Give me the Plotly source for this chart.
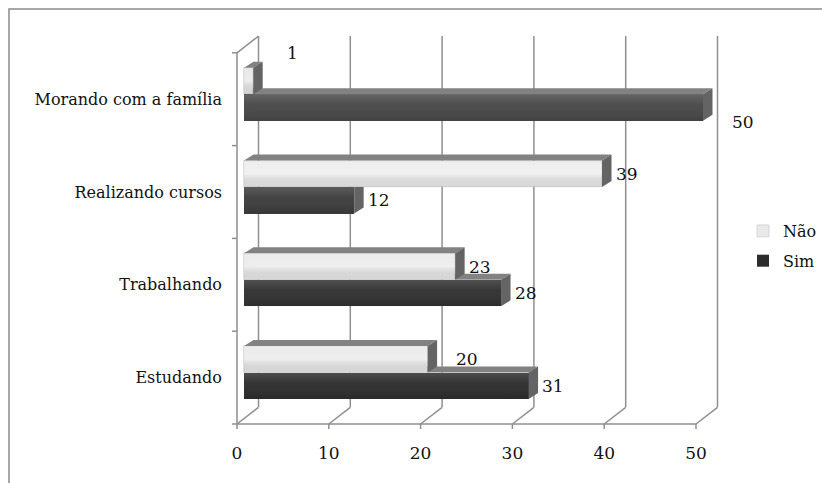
import plotly.graph_objects as go

# ---- data ---------------------------------------------------------------
categories = ["Estudando", "Trabalhando", "Realizando cursos", "Morando com a família"]
nao = [20, 23, 39, 1]
sim = [31, 28, 12, 50]
series_names = ["Não", "Sim"]
x_ticks = [0, 10, 20, 30, 40, 50]

# ---- styling ------------------------------------------------------------
nao_front = ["#e9e9e9", "#e9e9e9", "#ececec", "#e6e6e6"]
sim_front = ["#2c2c2c", "#303030", "#3c3c3c", "#474747"]
top_color = "#828282"
side_color = "#646464"
frame_line = dict(color="#8f8f8f", width=1.5)
FONT = "DejaVu Serif"
FONT_SIZE = 16
NUM_SIZE = 17

# label nudges in pixels (dx, dy) per category, same order as categories
nao_label_nudge = [(15, 0), (0, 0), (0, 0), (20, 28)]
sim_label_nudge = [(0, 0), (0, 0), (0, 0), (15, -15)]

# ---- geometry (pixels -> axis units) -----------------------------------
W, H = 822, 483
X0_PX, PX_PER_UNIT = 237, 9.18      # value 0 on the front plane, px per value unit
Y0_PX, PX_PER_BAND = 424, 92.8      # category floor on the front plane, px per category
PLOT_L, PLOT_R, PLOT_T, PLOT_B = 230, 730, 30, 432


def ux(px):
    return px / PX_PER_UNIT


def uy(px):
    return px / PX_PER_BAND


x_range = [ux(PLOT_L - X0_PX), ux(PLOT_R - X0_PX)]
y_range = [uy(Y0_PX - PLOT_B), uy(Y0_PX - PLOT_T)]

DEPTH_X, DEPTH_Y = ux(21.5), uy(16.7)   # wall depth
BAR_X0 = ux(7)                          # bars sit a little inside the box
BAR_LIFT = uy(5)
BAR_H = uy(26.5)
FACE_DX, FACE_DY = ux(9.5), uy(6)       # bar depth (top / side faces)

n = len(categories)
x_max = x_ticks[-1]

# ---- box frame ----------------------------------------------------------
shapes = []


def seg(x0, y0, x1, y1):
    shapes.append(dict(type="line", xref="x", yref="y", x0=x0, y0=y0, x1=x1, y1=y1,
                       line=frame_line, layer="below"))


for t in x_ticks:
    seg(t + DEPTH_X, DEPTH_Y, t + DEPTH_X, n + DEPTH_Y)   # back wall gridline
    seg(t, 0, t + DEPTH_X, DEPTH_Y)                       # floor edge
    seg(t, 0, t, -uy(5))                                  # tick mark
seg(0, 0, x_max, 0)
seg(0, 0, 0, n)
seg(0, n, DEPTH_X, n + DEPTH_Y)
for i in range(n + 1):
    seg(-ux(5), i, 0, i)


# outer frame around the whole chart
def paper_x(px):
    return (px - PLOT_L) / (PLOT_R - PLOT_L)


def paper_y(py):
    return (PLOT_B - py) / (PLOT_B - PLOT_T)


shapes.append(dict(type="rect", xref="paper", yref="paper",
                   x0=paper_x(9), x1=paper_x(840), y0=paper_y(9), y1=paper_y(500),
                   line=dict(color="#8a8a8a", width=1.5), fillcolor="rgba(0,0,0,0)",
                   layer="below"))

# ---- bars ---------------------------------------------------------------
centers = [i + 0.5 + BAR_LIFT for i in range(n)]
nao_y = [c + BAR_H / 2 for c in centers]
sim_y = [c - BAR_H / 2 for c in centers]

fig = go.Figure()
fig.add_trace(go.Bar(orientation="h", y=nao_y, x=nao, base=BAR_X0, width=BAR_H,
                     name=series_names[0], legendgroup="nao",
                     marker=dict(color=nao_front, line=dict(color="#c4c4c4", width=0.6)),
                     hovertemplate="%{x}<extra>Não</extra>"))
fig.add_trace(go.Bar(orientation="h", y=sim_y, x=sim, base=BAR_X0, width=BAR_H,
                     name=series_names[1], legendgroup="sim",
                     marker=dict(color=sim_front, line=dict(width=0)),
                     hovertemplate="%{x}<extra>Sim</extra>"))


def clip(poly, inside):
    """Sutherland-Hodgman clip of a polygon against one half-plane.
    inside(p) returns a signed value, >= 0 meaning kept."""
    out = []
    for k in range(len(poly)):
        a, b = poly[k - 1], poly[k]
        da, db = inside(a), inside(b)
        if db >= 0:
            if da < 0:
                s = da / (da - db)
                out.append((a[0] + s * (b[0] - a[0]), a[1] + s * (b[1] - a[1])))
            out.append(b)
        elif da >= 0:
            s = da / (da - db)
            out.append((a[0] + s * (b[0] - a[0]), a[1] + s * (b[1] - a[1])))
    return out


top_polys, side_polys = [], []
for i in range(n):
    # upper bar (Não): fully visible faces
    e = BAR_X0 + nao[i]
    yb, yt = nao_y[i] - BAR_H / 2, nao_y[i] + BAR_H / 2
    top_polys.append([(BAR_X0, yt), (e, yt), (e + FACE_DX, yt + FACE_DY), (BAR_X0 + FACE_DX, yt + FACE_DY)])
    side_polys.append([(e, yb), (e, yt), (e + FACE_DX, yt + FACE_DY), (e + FACE_DX, yb + FACE_DY)])

    # lower bar (Sim): faces partly hidden behind the Não bar resting on it
    cover = BAR_X0 + nao[i]
    e = BAR_X0 + sim[i]
    yb, yt = sim_y[i] - BAR_H / 2, sim_y[i] + BAR_H / 2
    top = [(BAR_X0, yt), (e, yt), (e + FACE_DX, yt + FACE_DY), (BAR_X0 + FACE_DX, yt + FACE_DY)]
    side = [(e, yb), (e, yt), (e + FACE_DX, yt + FACE_DY), (e + FACE_DX, yb + FACE_DY)]
    right_of_cover = lambda p, c=cover: p[0] - c
    below_cover = lambda p, y=yt: y - p[1]
    top_polys.append(clip(top, right_of_cover))
    side_polys.append(clip(side, right_of_cover))
    side_polys.append(clip(side, below_cover))


def face_trace(polys, color):
    xs, ys = [], []
    for p in polys:
        if len(p) < 3:
            continue
        xs += [q[0] for q in p] + [p[0][0], None]
        ys += [q[1] for q in p] + [p[0][1], None]
    return go.Scatter(x=xs, y=ys, mode="lines", fill="toself", fillcolor=color,
                      line=dict(width=0, color=color), hoverinfo="skip", showlegend=False)


fig.add_trace(face_trace(top_polys, top_color))
fig.add_trace(face_trace(side_polys, side_color))

# soft vertical shading on the front faces of the bars
shade_scales = {
    "nao": [[0, "rgba(0,0,0,0.07)"], [0.5, "rgba(255,255,255,0.25)"], [1, "rgba(255,255,255,0.1)"]],
    "sim": [[0, "rgba(0,0,0,0.08)"], [0.6, "rgba(255,255,255,0.04)"], [1, "rgba(255,255,255,0.16)"]],
}
for key, vals, ys in (("nao", nao, nao_y), ("sim", sim, sim_y)):
    for v, y in zip(vals, ys):
        x0, x1 = BAR_X0, BAR_X0 + v
        y0, y1 = y - BAR_H / 2, y + BAR_H / 2
        fig.add_trace(go.Scatter(
            x=[x0, x1, x1, x0, x0], y=[y0, y0, y1, y1, y0], mode="lines", fill="toself",
            fillgradient=dict(type="vertical", colorscale=shade_scales[key], start=y0, stop=y1),
            line=dict(width=0), hoverinfo="skip", showlegend=False))

# ---- value labels -------------------------------------------------------
annotations = []
for vals, ys, nudges in ((nao, nao_y, nao_label_nudge), (sim, sim_y, sim_label_nudge)):
    for v, y, (dx, dy) in zip(vals, ys, nudges):
        annotations.append(dict(x=BAR_X0 + v + FACE_DX, y=y, xref="x", yref="y",
                                text=str(v), showarrow=False, xanchor="left", yanchor="middle",
                                xshift=2 + dx, yshift=dy,
                                font=dict(family=FONT, size=NUM_SIZE, color="#111111")))

fig.update_layout(
    width=W, height=H,
    margin=dict(l=PLOT_L, r=W - PLOT_R, t=PLOT_T, b=H - PLOT_B, pad=0, autoexpand=False),
    paper_bgcolor="white", plot_bgcolor="rgba(0,0,0,0)",
    barmode="overlay", bargap=0,
    font=dict(family=FONT, size=FONT_SIZE, color="#111111"),
    shapes=shapes, annotations=annotations,
    showlegend=True,
    legend=dict(x=paper_x(743), y=paper_y(214), xanchor="left", yanchor="top",
                traceorder="grouped", bgcolor="rgba(0,0,0,0)",
                font=dict(family=FONT, size=FONT_SIZE), itemwidth=30,
                tracegroupgap=6),
    xaxis=dict(range=x_range, tickvals=x_ticks, ticktext=[str(t) for t in x_ticks],
               tickfont=dict(family=FONT, size=NUM_SIZE),
               showgrid=False, zeroline=False, showline=False, ticks="",
               ticklabelstandoff=9, fixedrange=True),
    yaxis=dict(range=y_range, tickvals=[i + 0.5 for i in range(n)], ticktext=categories,
               showgrid=False, zeroline=False, showline=False, ticks="",
               ticklabelstandoff=7, fixedrange=True),
)

fig.write_html("out.html")
